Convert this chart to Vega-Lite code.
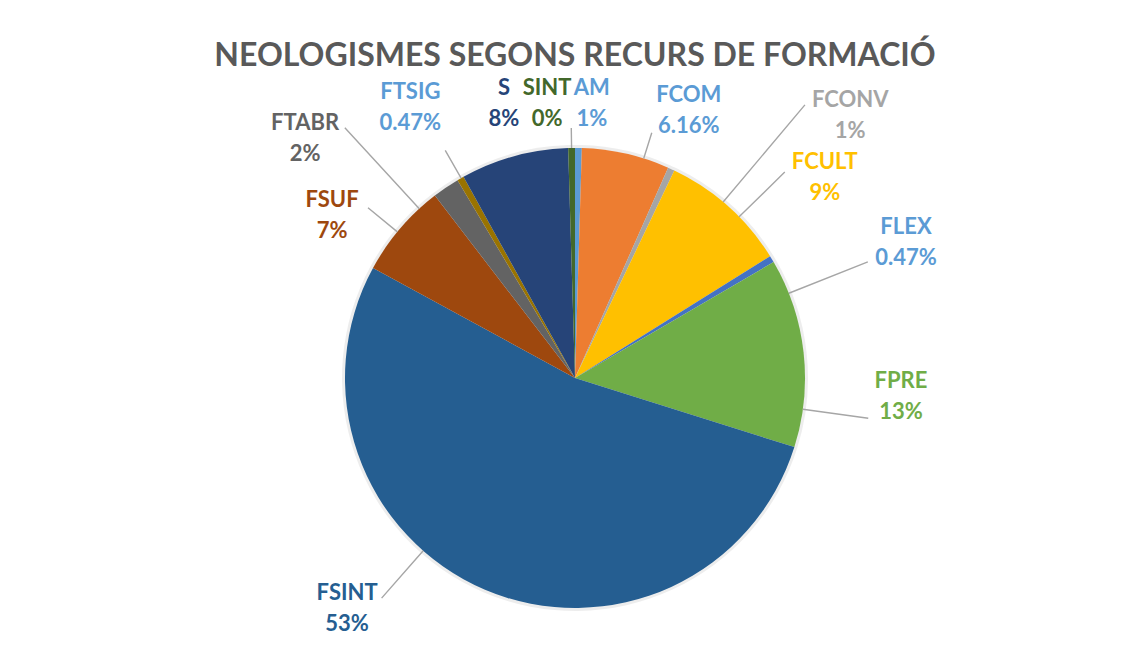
{
  "$schema": "https://vega.github.io/schema/vega-lite/v6.json",
  "width": 1112,
  "height": 578,
  "autosize": {"type": "none"},
  "padding": {"left": 19, "top": 89, "right": 0, "bottom": 0},
  "background": "white",
  "config": {"view": {"stroke": null}},
  "title": {"text": "NEOLOGISMES SEGONS RECURS DE FORMACIÓ", "font": "Lato", "fontSize": 32, "fontWeight": "bold", "color": "#595959", "anchor": "middle", "frame": "group", "offset": -38},
  "data": {"values": [
    {"idx": 1, "cat": "AM", "n": 1, "label": "AM\n1%"},
    {"idx": 2, "cat": "FCOM", "n": 13, "label": "FCOM\n6.16%"},
    {"idx": 3, "cat": "FCONV", "n": 1, "label": "FCONV\n1%"},
    {"idx": 4, "cat": "FCULT", "n": 19, "label": "FCULT\n9%"},
    {"idx": 5, "cat": "FLEX", "n": 1, "label": "FLEX\n0.47%"},
    {"idx": 6, "cat": "FPRE", "n": 28, "label": "FPRE\n13%"},
    {"idx": 7, "cat": "FSINT", "n": 112, "label": "FSINT\n53%"},
    {"idx": 8, "cat": "FSUF", "n": 14, "label": "FSUF\n7%"},
    {"idx": 9, "cat": "FTABR", "n": 4, "label": "FTABR\n2%"},
    {"idx": 10, "cat": "FTSIG", "n": 1, "label": "FTSIG\n0.47%"},
    {"idx": 11, "cat": "S", "n": 16, "label": "S\n8%"},
    {"idx": 12, "cat": "SINT", "n": 1, "label": "SINT\n0%"}
  ]},
  "encoding": {
    "theta": {"field": "n", "type": "quantitative", "stack": true},
    "order": {"field": "idx", "type": "quantitative"},
    "detail": {"field": "cat", "type": "nominal"}
  },
  "layer": [
    {"mark": {"type": "arc", "radius": 233, "color": "#000000", "opacity": 0.07}},
    {"mark": {"type": "arc", "radius": 230},
     "encoding": {"color": {"field": "cat", "type": "nominal", "legend": null,
       "scale": {"domain": ["AM","FCOM","FCONV","FCULT","FLEX","FPRE","FSINT","FSUF","FTABR","FTSIG","S","SINT"],
                 "range": ["#5B9BD5","#ED7D31","#A5A5A5","#FFC000","#4472C4","#70AD47","#255E91","#9E480E","#636363","#997300","#264478","#43682B"]}}}},

    {"mark": {"type": "arc", "clip": true, "padAngle": 3.1416, "radius": 250, "radius2": 230, "thetaOffset": 0, "fill": "transparent", "stroke": "#A6A6A6", "strokeWidth": 1.4},
     "encoding": {"strokeOpacity": {"condition": {"test": "datum.cat === 'SINT'", "value": 1}, "value": 0}}},
    {"mark": {"type": "arc", "clip": true, "padAngle": 3.1416, "radius": 257, "radius2": 230, "thetaOffset": 0.08, "fill": "transparent", "stroke": "#A6A6A6", "strokeWidth": 1.4},
     "encoding": {"strokeOpacity": {"condition": {"test": "datum.cat === 'FCOM'", "value": 1}, "value": 0}}},
    {"mark": {"type": "arc", "clip": true, "padAngle": 3.1416, "radius": 357, "radius2": 230, "thetaOffset": 0.268, "fill": "transparent", "stroke": "#A6A6A6", "strokeWidth": 1.4},
     "encoding": {"strokeOpacity": {"condition": {"test": "datum.cat === 'FCONV'", "value": 1}, "value": 0}}},
    {"mark": {"type": "arc", "clip": true, "padAngle": 3.1416, "radius": 294, "radius2": 230, "thetaOffset": 0.065, "fill": "transparent", "stroke": "#A6A6A6", "strokeWidth": 1.4},
     "encoding": {"strokeOpacity": {"condition": {"test": "datum.cat === 'FCULT'", "value": 1}, "value": 0}}},
    {"mark": {"type": "arc", "clip": true, "padAngle": 3.1416, "radius": 315, "radius2": 230, "thetaOffset": 0.166, "fill": "transparent", "stroke": "#A6A6A6", "strokeWidth": 1.4},
     "encoding": {"strokeOpacity": {"condition": {"test": "datum.cat === 'FLEX'", "value": 1}, "value": 0}}},
    {"mark": {"type": "arc", "clip": true, "padAngle": 3.1416, "radius": 296, "radius2": 230, "thetaOffset": 0.248, "fill": "transparent", "stroke": "#A6A6A6", "strokeWidth": 1.4},
     "encoding": {"strokeOpacity": {"condition": {"test": "datum.cat === 'FPRE'", "value": 1}, "value": 0}}},
    {"mark": {"type": "arc", "clip": true, "padAngle": 3.1416, "radius": 293, "radius2": 230, "thetaOffset": 3.8476, "fill": "transparent", "stroke": "#A6A6A6", "strokeWidth": 1.4},
     "encoding": {"strokeOpacity": {"condition": {"test": "datum.cat === 'AM'", "value": 1}, "value": 0}}},
    {"mark": {"type": "arc", "clip": true, "padAngle": 3.1416, "radius": 268, "radius2": 230, "thetaOffset": -0.019, "fill": "transparent", "stroke": "#A6A6A6", "strokeWidth": 1.4},
     "encoding": {"strokeOpacity": {"condition": {"test": "datum.cat === 'FSUF'", "value": 1}, "value": 0}}},
    {"mark": {"type": "arc", "clip": true, "padAngle": 3.1416, "radius": 340, "radius2": 230, "thetaOffset": -0.148, "fill": "transparent", "stroke": "#A6A6A6", "strokeWidth": 1.4},
     "encoding": {"strokeOpacity": {"condition": {"test": "datum.cat === 'FTABR'", "value": 1}, "value": 0}}},
    {"mark": {"type": "arc", "clip": true, "padAngle": 3.1416, "radius": 262, "radius2": 230, "thetaOffset": 0.003, "fill": "transparent", "stroke": "#A6A6A6", "strokeWidth": 1.4},
     "encoding": {"strokeOpacity": {"condition": {"test": "datum.cat === 'FTSIG'", "value": 1}, "value": 0}}},

    {"mark": {"type": "text", "font": "Lato", "fontSize": 22, "fontWeight": "bold", "lineHeight": 31, "lineBreak": "\n", "align": "center", "baseline": "middle", "dy": -15.5, "radius": 275.5, "thetaOffset": 0.0463, "color": "#5B9BD5"},
     "encoding": {"text": {"condition": {"test": "datum.cat === 'AM'", "field": "label"}, "value": ""}}},
    {"mark": {"type": "text", "font": "Lato", "fontSize": 22, "fontWeight": "bold", "lineHeight": 31, "lineBreak": "\n", "align": "center", "baseline": "middle", "dy": -15.5, "radius": 291, "thetaOffset": 0.178, "color": "#5B9BD5"},
     "encoding": {"text": {"condition": {"test": "datum.cat === 'FCOM'", "field": "label"}, "value": ""}}},
    {"mark": {"type": "text", "clip": true, "font": "Lato", "fontSize": 22, "fontWeight": "bold", "lineHeight": 31, "lineBreak": "\n", "align": "center", "baseline": "middle", "dy": -15.5, "radius": 380, "thetaOffset": 0.378, "color": "#A5A5A5"},
     "encoding": {"text": {"condition": {"test": "datum.cat === 'FCONV'", "field": "label"}, "value": ""}}},
    {"mark": {"type": "text", "clip": true, "font": "Lato", "fontSize": 22, "fontWeight": "bold", "lineHeight": 31, "lineBreak": "\n", "align": "center", "baseline": "middle", "dy": -15.5, "radius": 320, "thetaOffset": 0.166, "color": "#FFC000"},
     "encoding": {"text": {"condition": {"test": "datum.cat === 'FCULT'", "field": "label"}, "value": ""}}},
    {"mark": {"type": "text", "clip": true, "font": "Lato", "fontSize": 22, "fontWeight": "bold", "lineHeight": 31, "lineBreak": "\n", "align": "center", "baseline": "middle", "dy": -15.5, "radius": 357.5, "thetaOffset": 0.156, "color": "#5B9BD5"},
     "encoding": {"text": {"condition": {"test": "datum.cat === 'FLEX'", "field": "label"}, "value": ""}}},
    {"mark": {"type": "text", "clip": true, "font": "Lato", "fontSize": 22, "fontWeight": "bold", "lineHeight": 31, "lineBreak": "\n", "align": "center", "baseline": "middle", "dy": -15.5, "radius": 326.5, "thetaOffset": 0.168, "color": "#70AD47"},
     "encoding": {"text": {"condition": {"test": "datum.cat === 'FPRE'", "field": "label"}, "value": ""}}},
    {"mark": {"type": "text", "clip": true, "font": "Lato", "fontSize": 22, "fontWeight": "bold", "lineHeight": 31, "lineBreak": "\n", "align": "center", "baseline": "middle", "dy": -15.5, "radius": 324, "thetaOffset": 0.378, "color": "#255E91"},
     "encoding": {"text": {"condition": {"test": "datum.cat === 'FSINT'", "field": "label"}, "value": ""}}},
    {"mark": {"type": "text", "clip": true, "font": "Lato", "fontSize": 22, "fontWeight": "bold", "lineHeight": 31, "lineBreak": "\n", "align": "center", "baseline": "middle", "dy": -15.5, "radius": 292, "thetaOffset": -0.119, "color": "#9E480E"},
     "encoding": {"text": {"condition": {"test": "datum.cat === 'FSUF'", "field": "label"}, "value": ""}}},
    {"mark": {"type": "text", "clip": true, "font": "Lato", "fontSize": 22, "fontWeight": "bold", "lineHeight": 31, "lineBreak": "\n", "align": "center", "baseline": "middle", "dy": -15.5, "radius": 361, "thetaOffset": -0.249, "color": "#636363"},
     "encoding": {"text": {"condition": {"test": "datum.cat === 'FTABR'", "field": "label"}, "value": ""}}},
    {"mark": {"type": "text", "font": "Lato", "fontSize": 22, "fontWeight": "bold", "lineHeight": 31, "lineBreak": "\n", "align": "center", "baseline": "middle", "dy": -15.5, "radius": 317, "thetaOffset": -0.0251, "color": "#5B9BD5"},
     "encoding": {"text": {"condition": {"test": "datum.cat === 'FTSIG'", "field": "label"}, "value": ""}}},
    {"mark": {"type": "text", "font": "Lato", "fontSize": 22, "fontWeight": "bold", "lineHeight": 31, "lineBreak": "\n", "align": "center", "baseline": "middle", "dy": -15.5, "radius": 284, "thetaOffset": 0.015, "color": "#264478"},
     "encoding": {"text": {"condition": {"test": "datum.cat === 'S'", "field": "label"}, "value": ""}}},
    {"mark": {"type": "text", "font": "Lato", "fontSize": 22, "fontWeight": "bold", "lineHeight": 31, "lineBreak": "\n", "align": "center", "baseline": "middle", "dy": -15.5, "radius": 276.4, "thetaOffset": -0.0864, "color": "#43682B"},
     "encoding": {"text": {"condition": {"test": "datum.cat === 'SINT'", "field": "label"}, "value": ""}}}
  ]
}
